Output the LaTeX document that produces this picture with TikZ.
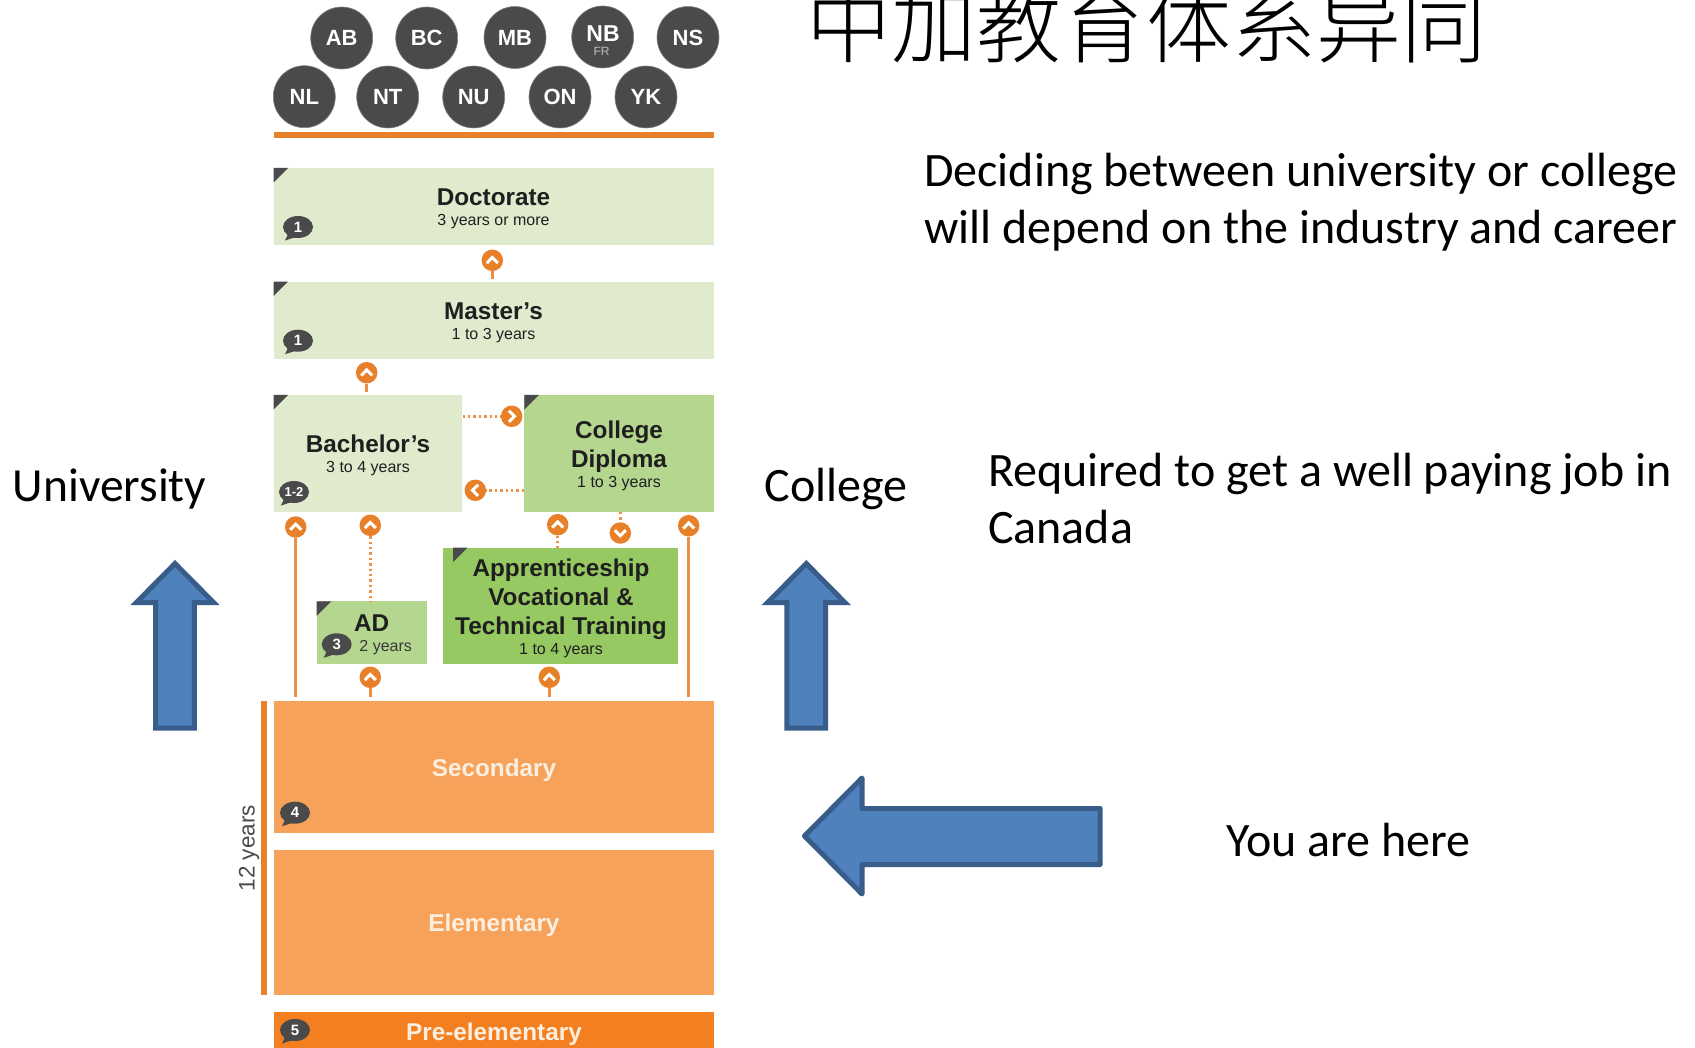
\documentclass[tikz,border=0pt]{standalone}
\usepackage{fontspec}
\setmainfont{Liberation Sans}
\newfontfamily\cjk{Noto Sans CJK SC Light}
\newfontfamily\cali{Carlito}
\usetikzlibrary{shapes.geometric}
\definecolor{darkc}{HTML}{4A4A4A}
\definecolor{lightg}{HTML}{DFEBCC}
\definecolor{midg}{HTML}{B4D68F}
\definecolor{strongg}{HTML}{96C962}
\definecolor{softo}{HTML}{F6A25B}
\definecolor{stronGo}{HTML}{F47F20}
\definecolor{lineo}{HTML}{E8802A}
\definecolor{paleo}{HTML}{FDEFDF}
\definecolor{bluef}{HTML}{4F81BD}
\definecolor{bluel}{HTML}{385D8A}
\newcommand\ttl{\fontsize{24.3}{29}\bfseries\selectfont}
\newcommand\sbt{\fontsize{16}{20}\mdseries\selectfont}
\tikzset{
 prov/.style={circle,fill=darkc,draw=darkc!70,line width=.6pt,minimum size=62pt,inner sep=0pt,text=white,align=center,font=\fontsize{22}{22}\bfseries\selectfont},
 edubox/.style={rectangle,inner sep=0pt,draw=none},
 boxlabel/.style={anchor=base,align=center,inner sep=0pt,text=black!88,font=\ttl},
 sublabel/.style={anchor=base,inner sep=0pt,text=black!78,font=\sbt},
 schoollabel/.style={text=paleo,inner sep=0pt,font=\fontsize{24.3}{29}\bfseries\selectfont},
 hint/.style={ellipse,fill=darkc,minimum width=30pt,minimum height=22pt,inner sep=0pt,text=white,font=\fontsize{15}{15}\bfseries\selectfont},
 pathicon/.style={circle,fill=lineo,minimum size=21.5pt,inner sep=0pt},
 chevron/.style={draw=white,line width=3pt,line join=miter},
 solidlink/.style={draw=lineo!88,line width=3pt},
 dotlink/.style={draw=lineo!85,line width=2.6pt,dash pattern=on 2.4pt off 3pt},
 slidetext/.style={anchor=base west,inner sep=0pt,text=black,font=\cali\fontsize{48}{48}\selectfont},
 blockarrow/.style={fill=bluef,draw=bluel,line width=5pt},
}
% name, x, y, rotation
\newcommand\iconat[4]{%
 \node[pathicon] (#1) at (#2,#3) {};
 \begin{scope}[shift={(#2,#3)},rotate=#4]
  \draw[chevron] (-5.5,2.8) -- (0,-2.8) -- (5.5,2.8);
 \end{scope}}
% name, x, y, text
\newcommand\hintat[4]{%
 \fill[darkc] (#2-9,#3+5) -- (#2-13,#3+13.5) -- (#2+1,#3+9) -- cycle;
 \node[hint] (#1) at (#2,#3) {#4};}
% corner flag at x,y
\newcommand\flagat[2]{\fill[darkc] (#1,#2) -- (#1+14.5,#2) -- (#1,#2+14.5) -- cycle;}
\begin{document}
\begin{tikzpicture}[x=1pt,y=-1pt]
\useasboundingbox (0,0) rectangle (1695,1048);
\fill[white] (0,0) rectangle (1695,1048);

% provinces
\node[prov] (ab) at (341.7,38) {AB};
\node[prov] (bc) at (426.7,38) {BC};
\node[prov] (mb) at (515,37.5) {MB};
\node[prov] (nb) at (602.7,37) {};
\node[anchor=base,inner sep=0pt,text=white,font=\fontsize{23}{23}\bfseries\selectfont] (nbname) at (603,42) {NB};
\node[anchor=base,inner sep=0pt,text=white!75!black,font=\fontsize{12}{12}\selectfont] (nbfr) at (601.5,55.5) {FR};
\node[prov] (ns) at (688,37.5) {NS};
\node[prov] (nl) at (304.3,96.7) {NL};
\node[prov] (nt) at (387.7,97) {NT};
\node[prov] (nu) at (473.7,97) {NU};
\node[prov] (on) at (560,97) {ON};
\node[prov] (yk) at (646,97) {YK};
\fill[lineo] (273.5,132.5) rectangle (714,138);

% boxes
\node[edubox,fill=lightg,minimum width=440.5pt,minimum height=77pt] (doc) at (493.75,206.5) {};
\node[edubox,fill=lightg,minimum width=440.5pt,minimum height=77.4pt] (mas) at (493.75,320.4) {};
\node[edubox,fill=lightg,minimum width=188.8pt,minimum height=116.7pt] (bac) at (367.9,453.35) {};
\node[edubox,fill=midg,minimum width=189.7pt,minimum height=116.7pt] (col) at (619.15,453.35) {};
\node[edubox,fill=midg,minimum width=110.3pt,minimum height=63pt] (ad) at (371.85,632.8) {};
\node[edubox,fill=strongg,minimum width=235pt,minimum height=116.6pt] (app) at (560.8,606) {};
\node[edubox,fill=softo,minimum width=440.5pt,minimum height=132.3pt] (sec) at (493.75,767.15) {};
\node[edubox,fill=softo,minimum width=440.5pt,minimum height=145.5pt] (ele) at (493.75,922.25) {};
\node[edubox,fill=stronGo,minimum width=440.5pt,minimum height=36pt] (pre) at (493.75,1030) {};

% corner flags
\flagat{273.5}{168}
\flagat{273.5}{281.7}
\flagat{273.5}{395}
\flagat{524.3}{395}
\flagat{316.7}{601.3}
\flagat{453}{547.7}

% labels
\node[boxlabel] (doct) at (493.5,225.7) {Doctorate\\[-9pt]\sbt 3 years or more};
\node[boxlabel] (mast) at (493.5,339.5) {Master’s\\[-9pt]\sbt 1 to 3 years};
\node[boxlabel] (bact) at (368,472.3) {Bachelor’s\\[-9pt]\sbt 3 to 4 years};
\node[boxlabel] (colt) at (619,487) {College\\Diploma\\[-9pt]\sbt 1 to 3 years};
\node[boxlabel] (adt) at (371.7,631.7) {AD};
\node[sublabel] (ads) at (385.7,651.7) {2 years};
\node[boxlabel] (appt) at (561,654) {Apprenticeship\\Vocational \&\\Technical Training\\[-9pt]\sbt 1 to 4 years};
\node[schoollabel] (sect) at (494,770.5) {Secondary};
\node[schoollabel] (elet) at (494,925) {Elementary};
\node[schoollabel] (pret) at (494,1034) {Pre-elementary};

% hints
\hintat{h1}{298}{227}{1}
\hintat{h2}{298}{340.7}{1}
\hintat{h3}{294}{492}{\fontsize{13}{13}\selectfont 1-2}
\hintat{h4}{336.7}{644.3}{3}
\hintat{h5}{295}{812.7}{4}
\hintat{h6}{295}{1030}{5}

% years bar
\fill[lineo] (261.4,701) rectangle (266.8,995);
\node[rotate=90,text=darkc,inner sep=0pt,font=\fontsize{22.5}{22.5}\selectfont] (yrs) at (249,848.3) {12 years};

% icons
\iconat{i1}{492.3}{260.3}{0}
\iconat{i2}{366.7}{372.7}{0}
\iconat{i3}{511.7}{416.3}{-90}
\iconat{i4}{475.3}{490.3}{90}
\iconat{i5}{295.7}{527}{0}
\iconat{i6}{370.3}{525.3}{0}
\iconat{i7}{557.7}{524.7}{0}
\iconat{i8}{620.3}{533}{180}
\iconat{i9}{688.7}{525.7}{0}
\iconat{i10}{370.3}{677.3}{0}
\iconat{i11}{549.3}{677.3}{0}

% connectors
\draw[solidlink,shorten >=2.5pt] (i1.south) -- (i1.south |- mas.north);
\draw[solidlink,shorten >=3pt] (i2.south) -- (i2.south |- bac.north);
\draw[dotlink] (bac.east |- i3.west) -- (i3.west);
\draw[dotlink] (col.west |- i4.east) -- (i4.east);
\draw[solidlink,shorten >=4pt] (i5.south) -- (i5.south |- sec.north);
\draw[dotlink] (i6.south) -- (i6.south |- ad.north);
\draw[dotlink] (i7.south) -- (i7.south |- app.north);
\draw[dotlink] (i8.north |- col.south) -- (i8.north);
\draw[solidlink,shorten >=4pt] (i9.south) -- (i9.south |- sec.north);
\draw[solidlink,shorten >=4pt] (i10.south) -- (i10.south |- sec.north);
\draw[solidlink,shorten >=4pt] (i11.south) -- (i11.south |- sec.north);

% block arrows
\draw[blockarrow,line join=miter] (175,563.5) -- (213.6,602.5) -- (194.35,602.5) -- (194.35,728.2) -- (155.65,728.2) -- (155.65,602.5) -- (136.4,602.5) -- cycle;
\draw[blockarrow,line join=miter] (806.3,563.5) -- (844.9,602.5) -- (825.65,602.5) -- (825.65,728.2) -- (786.95,728.2) -- (786.95,602.5) -- (767.7,602.5) -- cycle;
\draw[blockarrow,line join=round] (804.5,836) -- (862,778) -- (862,808.5) -- (1100.2,808.5) -- (1100.2,864.5) -- (862,864.5) -- (862,894) -- cycle;

% slide text
\node[anchor=base west,inner sep=0pt,text=black,font=\cjk\fontsize{85}{85}\selectfont] (title) at (806.6,57) {中加教育体系异同};
\node[slidetext] (t1) at (924,187) {Deciding between university or college};
\node[slidetext] (t2) at (924,243.5) {will depend on the industry and career};
\node[slidetext] (t3) at (988,486) {Required to get a well paying job in};
\node[slidetext] (t4) at (988,543.7) {Canada};
\node[slidetext,font=\cali\fontsize{47.5}{47.5}\selectfont] (t5) at (12.5,501) {University};
\node[slidetext] (t6) at (764.7,501) {College};
\node[slidetext] (t7) at (1226,856) {You are here};
\end{tikzpicture}
\end{document}
